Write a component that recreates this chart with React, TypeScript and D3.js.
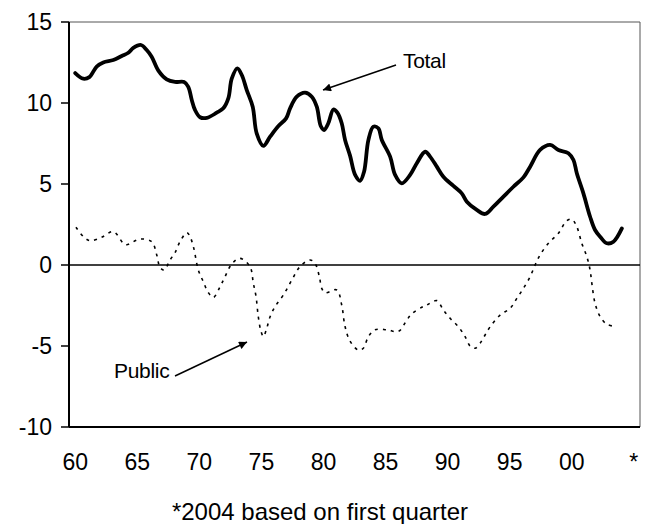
import React from "react";
import * as d3 from "d3";

const totalYears = [1960.0,1960.65,1961.14,1961.73,1962.26,1963.07,1963.75,1964.28,1964.68,1965.3,1965.76,1966.16,1966.7,1967.37,1968.04,1968.77,1969.11,1969.39,1969.65,1970.06,1970.6,1971.4,1971.93,1972.34,1972.61,1973.06,1973.42,1973.82,1974.3,1974.62,1975.16,1975.7,1976.37,1976.99,1977.31,1977.85,1978.52,1979.06,1979.46,1979.78,1980.05,1980.39,1980.8,1981.12,1981.47,1981.74,1982.14,1982.55,1982.95,1983.27,1983.62,1984.02,1984.42,1984.7,1985.37,1985.77,1986.31,1986.98,1987.52,1988.19,1988.59,1989.13,1989.66,1990.47,1991.14,1991.55,1992.35,1993.02,1993.69,1994.5,1995.3,1996.11,1996.65,1997.45,1998.26,1998.93,1999.73,2000.14,2000.41,2000.94,2001.48,2001.88,2002.29,2002.83,2003.36,2004.04];
const totalValues = [11.85,11.5,11.6,12.25,12.5,12.65,12.9,13.1,13.4,13.58,13.27,12.86,12.0,11.46,11.3,11.3,11.0,10.19,9.57,9.12,9.08,9.4,9.67,10.3,11.5,12.14,11.73,10.8,9.77,8.13,7.35,7.92,8.58,9.05,9.67,10.39,10.64,10.39,9.77,8.58,8.33,8.75,9.6,9.4,8.75,7.72,6.75,5.56,5.2,5.76,7.72,8.54,8.44,7.72,6.69,5.56,5.04,5.56,6.28,6.99,6.69,6.07,5.45,4.88,4.42,3.91,3.4,3.15,3.6,4.22,4.83,5.41,6.07,7.1,7.41,7.1,6.9,6.48,5.66,4.42,2.98,2.16,1.75,1.34,1.44,2.26];

const publicYears = [1960.06,1960.79,1961.25,1962.13,1963.07,1963.88,1964.15,1965.22,1966.16,1966.57,1966.83,1967.16,1967.64,1968.04,1968.44,1968.98,1969.19,1969.52,1969.92,1970.32,1970.72,1971.13,1971.67,1972.07,1972.61,1973.28,1974.08,1974.35,1974.57,1974.75,1974.97,1975.16,1975.43,1975.7,1976.1,1976.77,1977.45,1978.11,1978.92,1979.32,1979.67,1979.86,1980.13,1981.07,1981.47,1981.74,1982.14,1982.81,1983.21,1983.62,1984.16,1985.1,1986.04,1986.71,1987.11,1987.92,1988.32,1989.13,1989.66,1990.2,1990.87,1991.41,1991.81,1992.22,1992.62,1993.02,1993.43,1994.23,1995.04,1995.58,1996.11,1996.65,1997.05,1997.45,1998.12,1998.93,1999.6,2000.01,2000.41,2000.81,2001.22,2001.48,2001.62,2001.88,2002.29,2002.83,2003.36];
const publicValues = [2.33,1.65,1.5,1.71,2.06,1.34,1.25,1.6,1.44,0.62,-0.14,-0.31,0.31,0.76,1.44,2.0,1.85,1.13,-0.31,-1.03,-1.7,-2.0,-1.34,-0.72,0.06,0.41,-0.1,-1.13,-1.96,-3.19,-4.1,-4.42,-3.9,-3.19,-2.57,-1.85,-0.93,-0.1,0.31,0.1,-0.72,-1.44,-1.71,-1.54,-2.47,-3.8,-4.7,-5.25,-5.14,-4.42,-4.0,-4.0,-4.1,-3.4,-3.02,-2.61,-2.47,-2.2,-2.78,-3.29,-3.81,-4.42,-5.0,-5.14,-4.83,-4.32,-3.81,-3.09,-2.67,-2.06,-1.44,-0.72,0,0.62,1.34,1.96,2.73,2.82,2.36,1.34,0.51,-0.31,-1.13,-2.36,-3.19,-3.66,-3.77];

const xTickYears = [1960, 1965, 1970, 1975, 1980, 1985, 1990, 1995, 2000, 2005];
const xTickLabels = ["60", "65", "70", "75", "80", "85", "90", "95", "00", "*"];
const yTicks = [-10, -5, 0, 5, 10, 15];
const footnote = "*2004 based on first quarter";

const W = 646, H = 524;
const left = 69, right = 640, top = 22, bottom = 427;

export default function App() {
  const x = d3.scaleLinear().domain([1959.5, 2005.5]).range([left, right]);
  const y = d3.scaleLinear().domain([-10, 15]).range([bottom, top]);
  const line = d3.line<[number, number]>()
    .x((d) => x(d[0]))
    .y((d) => y(d[1]))
    .curve(d3.curveCatmullRom.alpha(0.5));
  const totalPts = totalYears.map((t, i) => [t, totalValues[i]] as [number, number]);
  const publicPts = publicYears.map((t, i) => [t, publicValues[i]] as [number, number]);
  const font = "'Liberation Sans', Arial, sans-serif";

  return (
    <svg width={W} height={H} style={{ position: "absolute", left: 0, top: 0, background: "#fff" }} fontFamily={font}>
      <defs>
        <marker id="ah" viewBox="0 0 10 10" refX="10" refY="5" markerWidth="11" markerHeight="8" markerUnits="userSpaceOnUse" orient="auto">
          <path d="M0,0 L10,5 L0,10 z" fill="#000" />
        </marker>
      </defs>
      <rect x={0} y={0} width={W} height={H} fill="#fff" />
      <line x1={left} x2={right} y1={top} y2={top} stroke="#555" strokeWidth={1} />
      <line x1={right} x2={right} y1={top} y2={bottom} stroke="#555" strokeWidth={1} />
      <line x1={left} x2={right} y1={bottom} y2={bottom} stroke="#000" strokeWidth={2} />
      <line x1={left} x2={left} y1={top} y2={bottom} stroke="#000" strokeWidth={2} />
      <line x1={left} x2={right} y1={y(0)} y2={y(0)} stroke="#000" strokeWidth={1.5} />
      {yTicks.map((t) => (
        <g key={t}>
          <line x1={left - 8} x2={left} y1={y(t)} y2={y(t)} stroke="#000" strokeWidth={1.5} />
          <text x={52} y={y(t)} dy="0.36em" textAnchor="end" fontSize={23} fill="#000">{t}</text>
        </g>
      ))}
      {xTickYears.map((t, i) => (
        <text key={t} x={x(t)} y={470} textAnchor="middle" fontSize={23} fill="#000">{xTickLabels[i]}</text>
      ))}
      <path d={line(publicPts) || ""} fill="none" stroke="#000" strokeWidth={1.6} strokeDasharray="3,5" />
      <path d={line(totalPts) || ""} fill="none" stroke="#000" strokeWidth={3.8} strokeLinejoin="round" strokeLinecap="round" />
      <text x={403} y={68} fontSize={21} fill="#000" letterSpacing={-0.3}>Total</text>
      <line x1={396} y1={65} x2={323} y2={90} stroke="#000" strokeWidth={1.5} markerEnd="url(#ah)" />
      <text x={114} y={378} fontSize={21} fill="#000" letterSpacing={-0.3}>Public</text>
      <line x1={175} y1={376} x2={247} y2={342} stroke="#000" strokeWidth={1.5} markerEnd="url(#ah)" />
      <text x={320} y={520} textAnchor="middle" fontSize={24} fill="#000">{footnote}</text>
    </svg>
  );
}
